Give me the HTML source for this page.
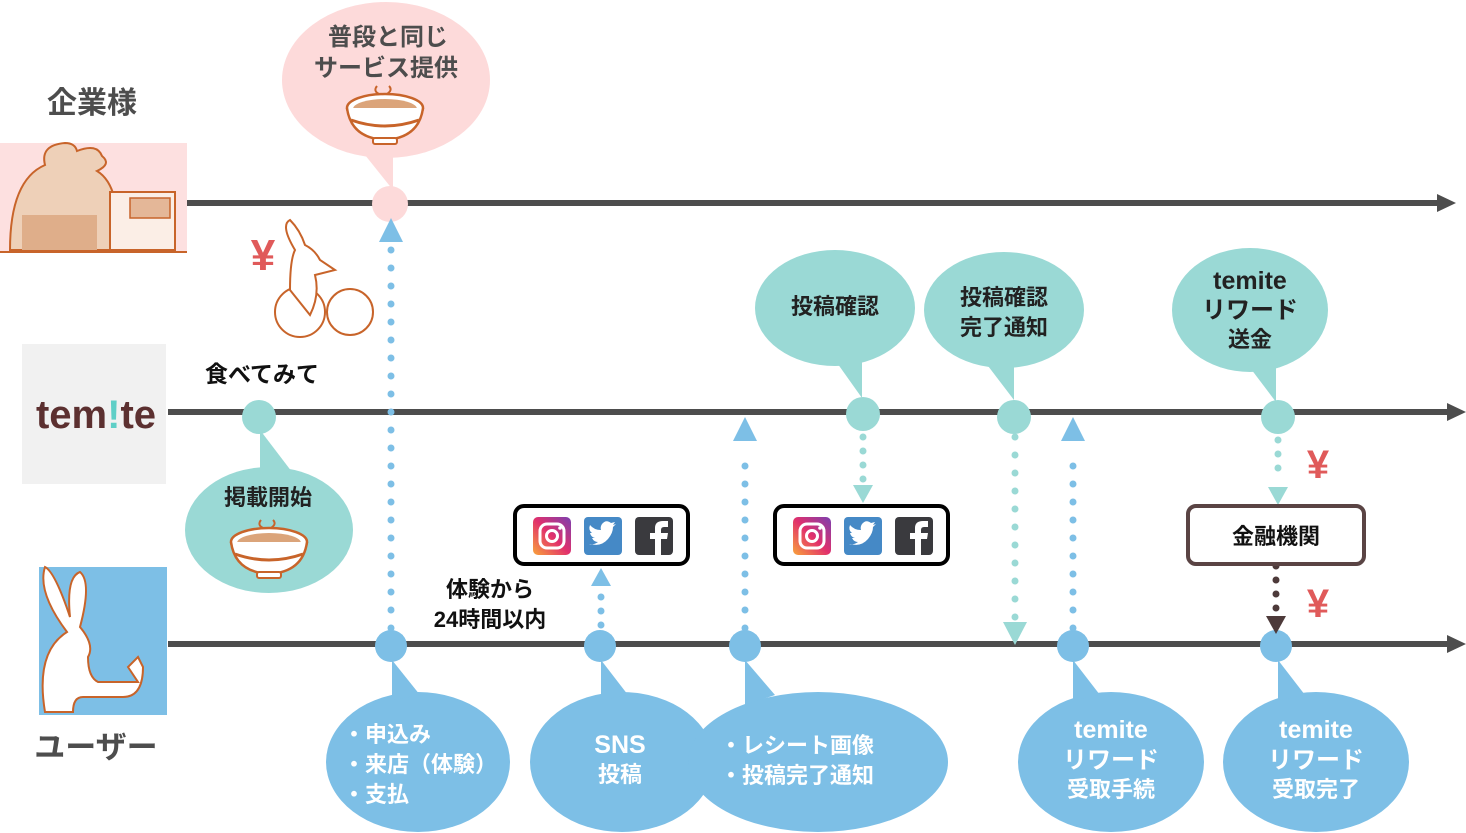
<!DOCTYPE html>
<html><head><meta charset="utf-8"><style>
html,body{margin:0;padding:0;background:#fff;}
svg{display:block;}
text{font-family:"Liberation Sans","Noto Sans CJK JP",sans-serif;font-weight:bold;}
</style></head><body>
<svg width="1466" height="833" viewBox="0 0 1466 833" xmlns="http://www.w3.org/2000/svg">
<defs>
<linearGradient id="ig" x1="0" y1="1" x2="1" y2="0"><stop offset="0" stop-color="#f9a33b"/><stop offset="0.5" stop-color="#e1306c"/><stop offset="1" stop-color="#7b3fb0"/></linearGradient>
<g id="sns">
<rect x="0" y="0" width="38" height="38" rx="5" fill="url(#ig)"/>
<rect x="7" y="7" width="24" height="24" rx="7" fill="none" stroke="#fff" stroke-width="3"/>
<circle cx="19" cy="19" r="5.5" fill="none" stroke="#fff" stroke-width="3"/>
<circle cx="27" cy="11" r="1.8" fill="#fff"/>
<rect x="51" y="0" width="38" height="38" rx="4" fill="#4589c6"/>
<path d="M58 27 q10 3 17 -5 q5 -6 5 -12 l3 -3 l-3 1 l2 -3 l-4 1 q-5 -4 -9 1 q-2 3 -1 6 q-7 0 -11 -5 q-2 5 2 8 l-2 0 q1 4 5 5 l-3 0 q2 4 6 4 q-4 3 -9 2z" fill="#fff"/>
<rect x="102" y="0" width="38" height="38" rx="4" fill="#3a3a3e"/>
<path d="M122 38 v-16 h-5 v-6 h5 v-5 q0 -7 8 -7 h5 v6 h-4 q-3 0 -3 3 v3 h7 l-1 6 h-6 v16z" fill="#fff"/>
</g>
<g id="bowl">
<ellipse cx="0" cy="0" rx="38" ry="14" fill="#fff" stroke="#c8642a" stroke-width="2.5"/>
<ellipse cx="0" cy="1" rx="32" ry="10" fill="#dba47a"/>
<path d="M-38 0 q4 30 38 32 q34 -2 38 -32" fill="#fff" stroke="#c8642a" stroke-width="2.5"/>
<path d="M-34 12 q34 12 68 0" fill="none" stroke="#c8642a" stroke-width="3"/>
<rect x="-12" y="30" width="24" height="6" rx="2" fill="#fff" stroke="#c8642a" stroke-width="2"/>
<path d="M-8 -22 q-4 5 2 8 M4 -22 q4 4 -2 8" fill="none" stroke="#c8642a" stroke-width="2"/>
</g>
</defs>

<rect x="0" y="143" width="187" height="110" fill="#fde0e0"/>
<path d="M10 250 q0 -70 35 -85 q-5 -20 20 -22 q10 0 12 8 q20 -8 25 5 q10 8 -5 15 q25 15 20 79z" fill="#eed0b8" stroke="#c8642a" stroke-width="2"/>
<rect x="22" y="215" width="75" height="35" fill="#dfae8a"/>
<rect x="110" y="192" width="65" height="58" fill="#fbeee6" stroke="#c8642a" stroke-width="2"/>
<rect x="130" y="198" width="40" height="20" fill="#e4b798" stroke="#c8642a" stroke-width="1.5"/>
<line x1="0" y1="252" x2="187" y2="252" stroke="#c8642a" stroke-width="2"/>
<text x="92" y="113" font-size="30" fill="#4d4d4d" text-anchor="middle">企業様</text>

<rect x="22" y="344" width="144" height="140" fill="#f1f1f1"/>
<text x="96" y="428" font-size="40" fill="#5c3030" text-anchor="middle">tem<tspan fill="#5fcfc7">!</tspan>te</text>

<rect x="39" y="567" width="128" height="148" fill="#7dbfe6"/>
<path d="M45 712 q-10 -60 22 -80 q-30 -40 -22 -65 q10 5 25 50 q-4 -40 10 -45 q12 10 0 55 q15 18 8 30 q0 20 10 25 h40 l-10 -15 l10 -10 l5 10 q0 30 -20 30 h-40 q-10 0 -10 15z" fill="#fff" stroke="#c8642a" stroke-width="2"/>
<text x="96" y="758" font-size="31" fill="#4d4d4d" text-anchor="middle">ユーザー</text>

<circle cx="300" cy="312" r="25" fill="none" stroke="#c8642a" stroke-width="2"/>
<circle cx="350" cy="312" r="23" fill="none" stroke="#c8642a" stroke-width="2"/>
<path d="M290 290 q0 -30 5 -40 q-15 -25 -5 -30 q10 10 15 25 q10 5 15 15 l15 10 l-20 5 q5 20 -5 40z" fill="#fff" stroke="#c8642a" stroke-width="2"/>
<text x="263" y="270" font-size="44" fill="#e05a5a" text-anchor="middle">¥</text>

<g stroke="#4d4d4d" stroke-width="6">
<line x1="187" y1="203" x2="1440" y2="203"/>
<line x1="168" y1="412" x2="1450" y2="412"/>
<line x1="168" y1="644" x2="1450" y2="644"/>
</g>
<g fill="#4d4d4d">
<polygon points="1437,194 1456,203 1437,212"/>
<polygon points="1447,403 1466,412 1447,421"/>
<polygon points="1447,635 1466,644 1447,653"/>
</g>

<ellipse cx="386" cy="80" rx="104" ry="78" fill="#fddada"/>
<polygon points="365,155 393,150 393,190" fill="#fddada"/>
<circle cx="390" cy="204" r="18" fill="#fddada"/>
<text x="388" y="45" font-size="24" fill="#4d4d4d" text-anchor="middle">普段と同じ</text>
<text x="386" y="76" font-size="24" fill="#4d4d4d" text-anchor="middle">サービス提供</text>
<use href="#bowl" x="385" y="108"/>

<g fill="#9ad9d5">
<ellipse cx="269" cy="530" rx="84" ry="63"/>
<polygon points="260,430 260,475 292,472"/>
<circle cx="259" cy="417" r="17"/>
<ellipse cx="835" cy="308" rx="80" ry="58"/>
<polygon points="835,360 862,360 862,398"/>
<circle cx="863" cy="414" r="17"/>
<ellipse cx="1004" cy="310" rx="80" ry="58"/>
<polygon points="985,362 1014,362 1014,400"/>
<circle cx="1014" cy="417" r="17"/>
<ellipse cx="1250" cy="310" rx="78" ry="62"/>
<polygon points="1248,365 1276,365 1276,402"/>
<circle cx="1278" cy="417" r="17"/>
</g>
<text x="268" y="505" font-size="22" fill="#222" text-anchor="middle">掲載開始</text>
<use href="#bowl" x="269" y="542"/>
<text x="835" y="314" font-size="22" fill="#222" text-anchor="middle">投稿確認</text>
<text x="1004" y="305" font-size="22" fill="#222" text-anchor="middle">投稿確認</text>
<text x="1004" y="335" font-size="22" fill="#222" text-anchor="middle">完了通知</text>
<text x="1250" y="289" font-size="25" fill="#222" text-anchor="middle">temite</text>
<text x="1250" y="318" font-size="24" fill="#222" text-anchor="middle">リワード</text>
<text x="1250" y="347" font-size="22" fill="#222" text-anchor="middle">送金</text>
<text x="262" y="382" font-size="23" fill="#111" text-anchor="middle">食べてみて</text>

<g fill="#7dbfe6">
<ellipse cx="418" cy="762" rx="92" ry="70"/>
<polygon points="392,660 392,700 420,695"/>
<circle cx="391" cy="646" r="16"/>
<ellipse cx="622" cy="762" rx="92" ry="70"/>
<polygon points="601,660 601,700 628,695"/>
<circle cx="600" cy="646" r="16"/>
<ellipse cx="818" cy="762" rx="130" ry="70"/>
<polygon points="745,660 745,705 775,695"/>
<circle cx="745" cy="646" r="16"/>
<ellipse cx="1111" cy="762" rx="93" ry="70"/>
<polygon points="1073,660 1073,700 1100,695"/>
<circle cx="1073" cy="646" r="16"/>
<ellipse cx="1316" cy="762" rx="93" ry="70"/>
<polygon points="1278,660 1278,700 1305,695"/>
<circle cx="1276" cy="646" r="16"/>
</g>
<g fill="#fff" font-size="22">
<text x="343" y="742">・申込み</text>
<text x="343" y="772">・来店（体験）</text>
<text x="343" y="802">・支払</text>
<text x="620" y="753" font-size="25" text-anchor="middle">SNS</text>
<text x="620" y="782" text-anchor="middle">投稿</text>
<text x="720" y="753">・レシート画像</text>
<text x="720" y="783">・投稿完了通知</text>
<text x="1111" y="738" font-size="25" text-anchor="middle">temite</text>
<text x="1111" y="768" font-size="24" text-anchor="middle">リワード</text>
<text x="1111" y="797" text-anchor="middle">受取手続</text>
<text x="1316" y="738" font-size="25" text-anchor="middle">temite</text>
<text x="1316" y="768" font-size="24" text-anchor="middle">リワード</text>
<text x="1316" y="797" text-anchor="middle">受取完了</text>
</g>
<text x="490" y="597" font-size="22" fill="#111" text-anchor="middle">体験から</text>
<text x="490" y="627" font-size="22" fill="#111" text-anchor="middle">24時間以内</text>

<g stroke-linecap="round" stroke-width="7" stroke-dasharray="0 18" fill="none">
<line x1="391" y1="628" x2="391" y2="246" stroke="#7dbfe6"/>
<line x1="601" y1="625" x2="601" y2="590" stroke="#7dbfe6" stroke-dasharray="0 14"/>
<line x1="745" y1="628" x2="745" y2="450" stroke="#7dbfe6"/>
<line x1="1073" y1="628" x2="1073" y2="450" stroke="#7dbfe6"/>
<line x1="863" y1="437" x2="863" y2="480" stroke="#9ad9d5" stroke-dasharray="0 14"/>
<line x1="1015" y1="437" x2="1015" y2="620" stroke="#9ad9d5"/>
<line x1="1278" y1="440" x2="1278" y2="482" stroke="#9ad9d5" stroke-dasharray="0 14"/>
<line x1="1276" y1="566" x2="1276" y2="612" stroke="#4d3a3a" stroke-dasharray="0 14"/>
</g>
<g>
<polygon points="379,242 391,218 403,242" fill="#7dbfe6"/>
<polygon points="591,586 601,568 611,586" fill="#7dbfe6"/>
<polygon points="733,441 745,417 757,441" fill="#7dbfe6"/>
<polygon points="1061,441 1073,417 1085,441" fill="#7dbfe6"/>
<polygon points="853,485 863,503 873,485" fill="#9ad9d5"/>
<polygon points="1003,622 1015,645 1027,622" fill="#9ad9d5"/>
<polygon points="1268,487 1278,505 1288,487" fill="#9ad9d5"/>
<polygon points="1266,616 1276,634 1286,616" fill="#4d3a3a"/>
</g>

<rect x="515" y="506" width="173" height="58" rx="9" fill="#fff" stroke="#000" stroke-width="4"/>
<use href="#sns" x="533" y="517"/>
<rect x="775" y="506" width="173" height="58" rx="9" fill="#fff" stroke="#000" stroke-width="4"/>
<use href="#sns" x="793" y="517"/>
<rect x="1188" y="506" width="176" height="58" rx="8" fill="#fff" stroke="#5a4444" stroke-width="4"/>
<text x="1276" y="544" font-size="22" fill="#111" text-anchor="middle">金融機関</text>

<text x="1318" y="478" font-size="40" fill="#e05a5a" text-anchor="middle">¥</text>
<text x="1318" y="617" font-size="40" fill="#e05a5a" text-anchor="middle">¥</text>
</svg>
</body></html>
